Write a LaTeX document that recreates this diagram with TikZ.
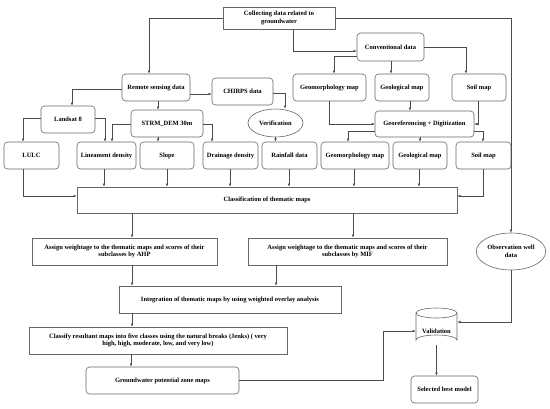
\documentclass[tikz,border=0pt]{standalone}
\usepackage{fontspec}
\setmainfont{Liberation Serif}
\usetikzlibrary{arrows.meta,shapes.geometric,calc}
\begin{document}
\begin{tikzpicture}[x=1pt,y=-1pt,
  base/.style={draw=black!60, line width=0.6pt, align=center, font=\bfseries\fontsize{6.5}{7.8}\selectfont, inner sep=1pt},
  rbox/.style={base, rounded corners=3.5pt},
  sbox/.style={base},
  oval/.style={base, ellipse},
  sz/.style 2 args={minimum width=#1pt, minimum height=#2pt},
  cyl/.style={draw=black!60, line width=0.6pt},
  arr/.style={draw=black!70, line width=0.55pt, -{Latex[length=3.2pt,width=2.6pt]}},
]
\useasboundingbox (0,0) rectangle (550,408);
% top level
\node[sbox, sz={112}{22}] (collect) at (279,18) {Collecting data related to\\groundwater};
\node[rbox, sz={68}{27}] (rs) at (156,87.5) {Remote sensing data};
\node[rbox, sz={61}{27}] (chirps) at (242.5,91.5) {CHIRPS data};
\node[rbox, sz={67}{28}] (conv) at (390.5,47) {Conventional data};
\node[rbox, sz={73}{27}] (geoU) at (329.5,87.5) {Geomorphology map};
\node[rbox, sz={54}{27}] (geolU) at (402,87.5) {Geological map};
\node[rbox, sz={54}{27}] (soilU) at (479,87.5) {Soil map};
\node[rbox, sz={54}{27}] (landsat) at (68,119.5) {Landsat 8};
\node[rbox, sz={72}{27}] (strm) at (167,123.5) {STRM\_DEM 30m};
\node[oval, sz={55}{28}] (verif) at (275.5,123) {Verification};
\node[rbox, sz={99}{26}] (georef) at (424.5,124) {Georeferencing + Digitization};
% thematic row
\node[rbox, sz={55}{27}] (lulc) at (31.5,155.5) {LULC};
\node[rbox, sz={59}{27}] (lin) at (106.5,155.5) {Lineament density};
\node[rbox, sz={54}{27}] (slope) at (167,155.5) {Slope};
\node[rbox, sz={55}{27}] (drain) at (230.5,155.5) {Drainage density};
\node[rbox, sz={55}{27}] (rain) at (289.5,155.5) {Rainfall data};
\node[rbox, sz={68}{27}] (geoL) at (355,155.5) {Geomorphology map};
\node[rbox, sz={54}{27}] (geolL) at (420,155.5) {Geological map};
\node[rbox, sz={55}{27}] (soilL) at (483.5,155.5) {Soil map};
% lower
\node[sbox, sz={380}{26}] (class) at (267,200) {Classification of thematic maps};
\node[sbox, sz={185}{27}] (ahp) at (124.5,251.5) {Assign weightage to the thematic maps and scores of their\\subclasses by AHP};
\node[sbox, sz={199}{27}] (mif) at (347.5,251.5) {Assign weightage to the thematic maps and scores of their\\subclasses by MIF};
\node[oval, sz={66}{37}] (obs) at (511,251.5) {Observation well\\data};
\node[sbox, sz={222}{27}] (integ) at (230,299.5) {Integration of thematic maps by using weighted overlay analysis};
\node[sbox, sz={258}{27}] (classify) at (158,340.5) {Classify resultant maps into five classes using the natural breaks (Jenks) ( very\\high, high, moderate, low, and very low)};
\node[rbox, sz={153}{27}] (gw) at (162.5,380.5) {Groundwater potential zone maps};
% validation cylinder
\node[base, draw=none, sz={41}{28}] (valid) at (436.5,331) {Validation};
\draw[cyl] ($(valid)+(-20.5,-18)$) -- ($(valid)+(-20.5,9)$)
  arc[start angle=180, end angle=360, x radius=20.5, y radius=5]
  -- ($(valid)+(20.5,-18)$);
\draw[cyl] ($(valid)+(0,-18)$) ellipse[x radius=20.5, y radius=5];
\node[rbox, sz={67}{27}] (best) at (444.5,389.5) {Selected best model};
% connectors
\draw[arr] (collect.west) -| (rs.north -| 149,0);
\draw[arr] (collect.south -| 293,0) |- (conv.west |- 0,51);
\draw[arr] (collect.east) -| (obs.north);
\draw[arr] (rs.east |- 0,94) -- (chirps.west |- 0,94);
\draw[arr] (rs.west |- 0,89) -| (landsat.north -| 72,0);
\draw[arr] (rs.south -| 158,0) -- (strm.north -| 158,0);
\draw[arr] (chirps.east |- 0,93) -| (verif.north -| 285,0);
\draw[arr] (verif.south) -- (rain.north -| verif.south);
\draw[arr] (landsat.west |- 0,118) -| (lulc.north -| 23,0);
\draw[arr] (landsat.east |- 0,118) -| (lin.north -| 105,0);
\draw[arr] (strm.west |- 0,124) -| (lin.north -| 112,0);
\draw[arr] (strm.south -| 158,0) -- (slope.north -| 158,0);
\draw[arr] (strm.east |- 0,124) -| (drain.north -| 212,0);
\draw[arr] (conv.west |- 0,56) -| (geoU.north -| 334,0);
\draw[arr] (conv.south -| 391,0) -- (geolU.north -| 391,0);
\draw[arr] (conv.east) -| (soilU.north -| 466,0);
\draw[arr] (geoU.south) |- (georef.west);
\draw[arr] (geolU.south -| 410,0) -- (georef.north -| 410,0);
\draw[arr] (soilU.south -| 478,0) |- (georef.east);
\draw[arr] (georef.west |- 0,131) -| (geoL.north -| 348,0);
\draw[arr] (georef.south -| 420,0) -- (geolL.north -| 420,0);
\draw[arr] (georef.east |- 0,131) -| (soilL.north -| 483,0);
\draw[arr] (lin.south -| 104,0) -- (class.north -| 104,0);
\draw[arr] (slope.south -| 167,0) -- (class.north -| 167,0);
\draw[arr] (drain.south -| 230,0) -- (class.north -| 230,0);
\draw[arr] (rain.south -| 289,0) -- (class.north -| 289,0);
\draw[arr] (geoL.south -| 354,0) -- (class.north -| 354,0);
\draw[arr] (geolL.south -| 419,0) -- (class.north -| 419,0);
\draw[arr] (lulc.south -| 23,0) |- (class.west |- 0,196);
\draw[arr] (soilL.south -| 483,0) |- (class.east |- 0,196);
\draw[arr] (class.south -| 132,0) -- (ahp.north -| 132,0);
\draw[arr] (class.south -| 353,0) -- (mif.north -| 353,0);
\draw[arr] (ahp.south -| 132,0) -- (integ.north -| 132,0);
\draw[arr] (mif.south -| 276,0) -- (integ.north -| 276,0);
\draw[arr] (integ.south -| 132,0) -- (classify.north -| 132,0);
\draw[arr] (classify.south -| 131,0) -- (gw.north -| 131,0);
\draw[arr] (gw.east) -- (gw.east -| 383,0) |- (valid.west |- 0,331);
\draw[arr] (obs.south) |- (valid.east |- 0,322);
\draw[arr] (valid.south) -- (best.north -| valid.south);
\end{tikzpicture}
\end{document}
